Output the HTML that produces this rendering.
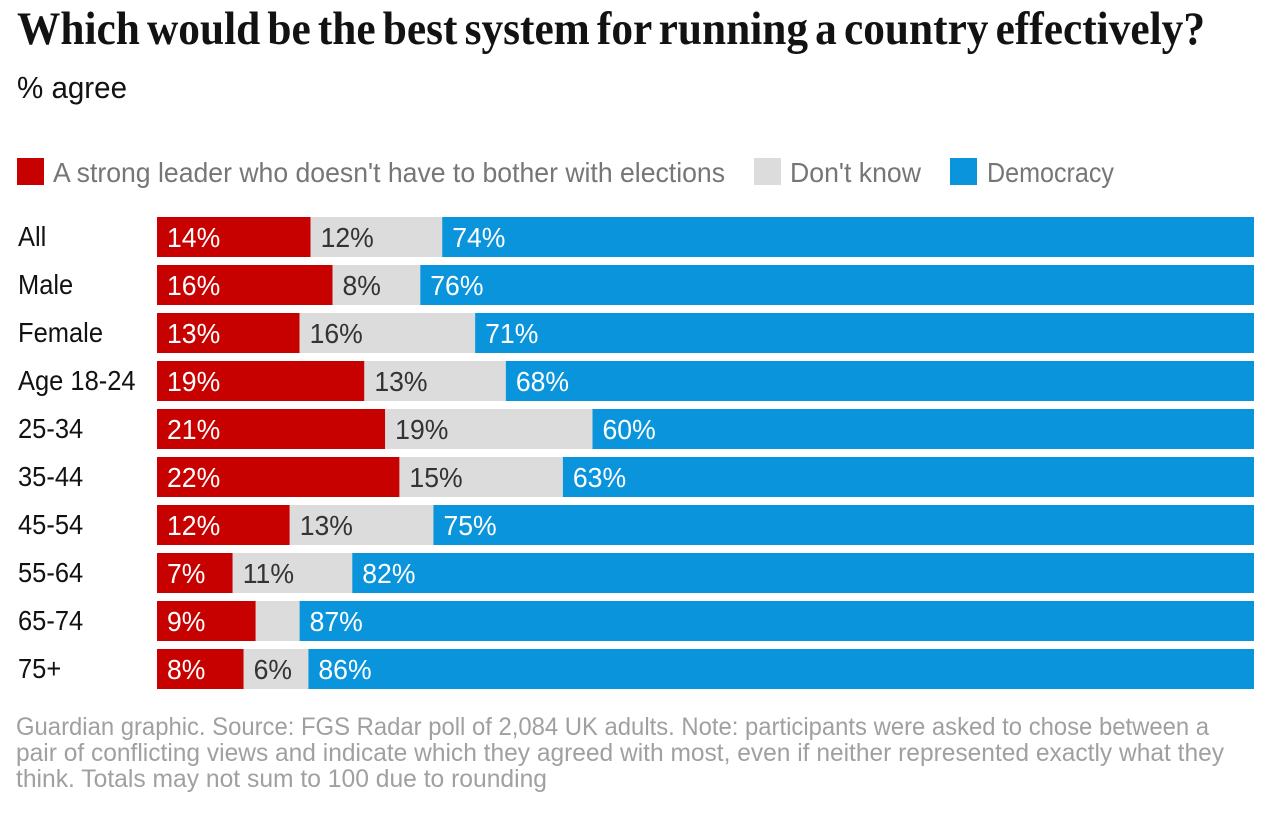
<!DOCTYPE html>
<html lang="en">
<head>
<meta charset="utf-8">
<title>Which would be the best system for running a country effectively?</title>
<style>
html,body{margin:0;padding:0;background:#fff;}
svg{display:block;}
text{font-family:"Liberation Sans",sans-serif;}
</style>
</head>
<body>
<svg id="chart" width="1282" height="814" viewBox="0 0 1282 814" xmlns="http://www.w3.org/2000/svg">
  <rect x="0" y="0" width="1282" height="814" fill="#ffffff"/>
  <text class="fit" data-w="1188" x="17" y="44" font-size="47" font-weight="700" fill="#121212" style='font-family:"Liberation Serif",serif;word-spacing:-4px'>Which would be the best system for running a country effectively?</text>
  <text class="fit" data-w="110" x="17" y="98" font-size="31" fill="#121212">% agree</text>

  <g>
    <rect x="17" y="158" width="27" height="27" fill="#c70000"/>
    <text class="fit" data-w="672" x="53" y="182" font-size="28" fill="#767676">A strong leader who doesn't have to bother with elections</text>
    <rect x="754" y="158" width="27" height="27" fill="#dcdcdc"/>
    <text class="fit" data-w="131" x="790" y="182" font-size="28" fill="#767676">Don't know</text>
    <rect x="950" y="158" width="27" height="27" fill="#0a94dc"/>
    <text class="fit" data-w="127" x="987" y="182" font-size="28" fill="#767676">Democracy</text>
  </g>

  <g id="rows"></g>

  <g>
    <text class="fit" data-w="1193" x="16" y="735" font-size="25" fill="#a0a0a0">Guardian graphic. Source: FGS Radar poll of 2,084 UK adults. Note: participants were asked to chose between a</text>
    <text class="fit" data-w="1208" x="16" y="761" font-size="25" fill="#a0a0a0">pair of conflicting views and indicate which they agreed with most, even if neither represented exactly what they</text>
    <text class="fit" data-w="531" x="16" y="787" font-size="25" fill="#a0a0a0">think. Totals may not sum to 100 due to rounding</text>
  </g>
</svg>
<script>
const categories = ["All", "Male", "Female", "Age 18-24", "25-34", "35-44", "45-54", "55-64", "65-74", "75+"];
const strongLeader = [14, 16, 13, 18.9, 20.8, 22.1, 12.1, 6.9, 9, 7.9];
const dontKnow = [12, 8, 16, 12.9, 18.9, 14.9, 13.1, 10.9, 4, 5.9];
const democracy = [74, 76, 71, 68.2, 60.3, 63, 74.8, 82.2, 87, 86.2];

const NS = 'http://www.w3.org/2000/svg';
const rowsGroup = document.getElementById('rows');
const plotLeft = 157, plotRight = 1254, rowTop = 217, rowStep = 48, barHeight = 40;
const xScale = v => (plotRight - plotLeft) * v / 100;
const yScale = i => rowTop + i * rowStep;
const minLabelled = 5;

function squeeze(el, factor) {
  const w = el.getComputedTextLength();
  el.setAttribute('textLength', (w * factor).toFixed(1));
  el.setAttribute('lengthAdjust', 'spacingAndGlyphs');
}

categories.forEach((cat, i) => {
  const y = yScale(i);
  const row = document.createElementNS(NS, 'g');
  
  
  rowsGroup.appendChild(row);

  const label = document.createElementNS(NS, 'text');
  
  
  label.setAttribute('x', 18);
  label.setAttribute('y', y + 29);
  label.setAttribute('font-size', 28);
  label.setAttribute('fill', '#121212');
  label.textContent = cat;
  row.appendChild(label);
  squeeze(label, 0.91);

  let start = 0;
  [
    { key: 'strong-leader', v: strongLeader[i], fill: '#c70000', ink: '#ffffff' },
    { key: 'dont-know', v: dontKnow[i], fill: '#dcdcdc', ink: '#333333' },
    { key: 'democracy', v: democracy[i], fill: '#0a94dc', ink: '#ffffff' }
  ].forEach(seg => {
    const x0 = plotLeft + xScale(start);
    const bar = document.createElementNS(NS, 'rect');
    
    
    bar.setAttribute('x', x0);
    bar.setAttribute('y', y);
    bar.setAttribute('width', xScale(seg.v));
    bar.setAttribute('height', barHeight);
    bar.setAttribute('fill', seg.fill);
    row.appendChild(bar);

    if (seg.v >= minLabelled) {
      const val = document.createElementNS(NS, 'text');
      
      
      val.setAttribute('x', x0 + 10);
      val.setAttribute('y', y + 30);
      val.setAttribute('font-size', 28);
      val.setAttribute('fill', seg.ink);
      val.textContent = Math.round(seg.v) + '%';
      row.appendChild(val);
      squeeze(val, 0.95);
    }
    start += seg.v;
  });
});

document.querySelectorAll('text.fit').forEach(el => {
  el.setAttribute('textLength', el.getAttribute('data-w'));
  el.setAttribute('lengthAdjust', 'spacingAndGlyphs');
});
</script>
</body>
</html>
